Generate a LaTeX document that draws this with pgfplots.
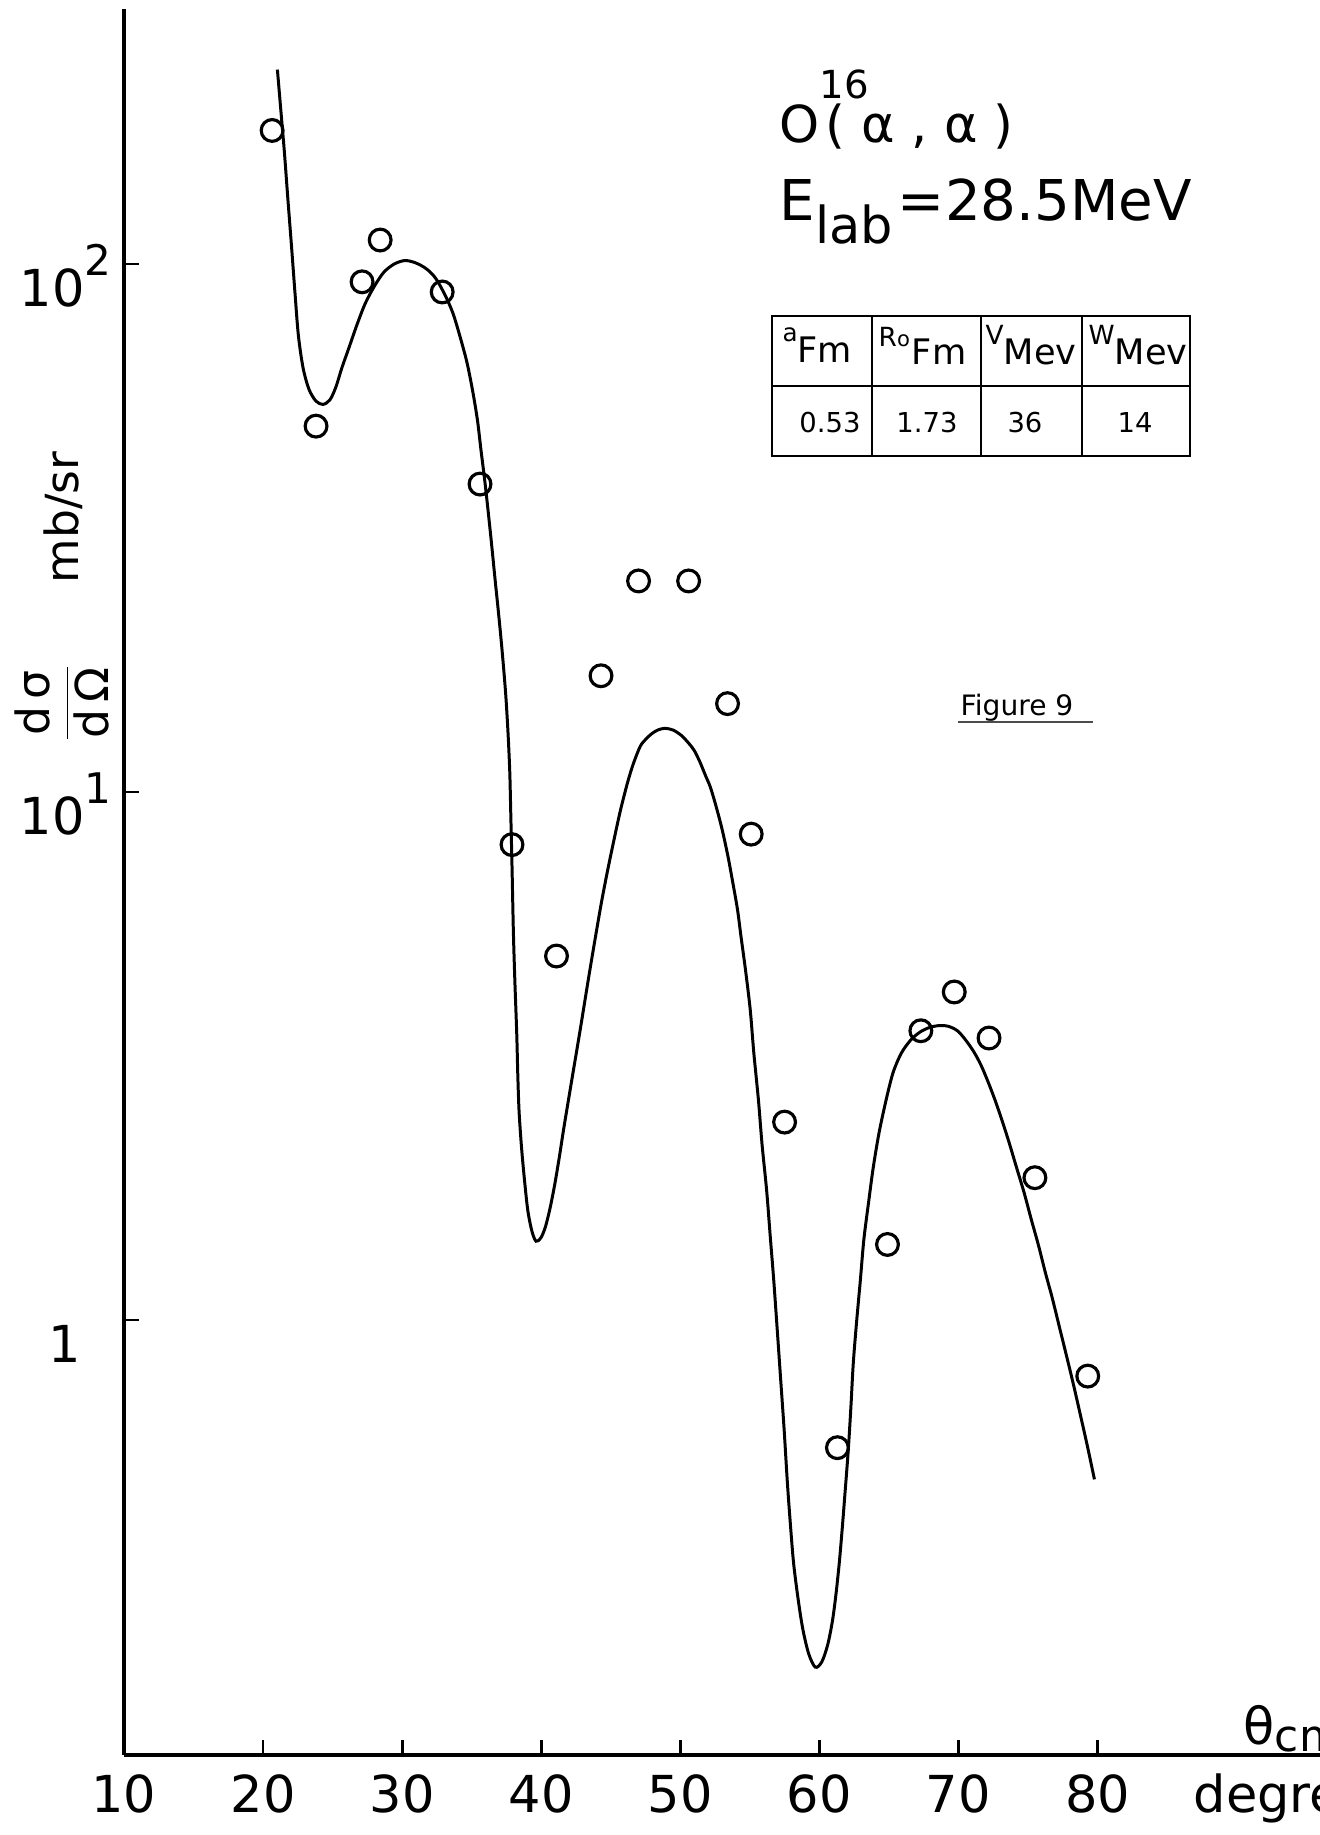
\documentclass[border=0pt]{standalone}
\usepackage{amsmath}
\usepackage{fontspec}
\setmainfont{DejaVu Sans}
\usepackage{pgfplots}
\usepackage{pgfplotstable}
\pgfplotsset{compat=1.18}

% measured cross sections (circles)
\pgfplotstableread{
theta  sigma
20.65  179
23.81  49.3
27.12  92.5
28.42  111
32.88  88.5
35.6   38.3
37.9   7.95
41.1   4.89
44.3   16.6
47.0   25.1
50.6   25.1
53.4   14.7
55.1   8.32
57.5   2.37
61.3   0.573
64.9   1.39
67.3   3.53
69.7   4.18
72.2   3.42
75.5   1.86
79.3   0.783
}\measured

% optical model fit (solid curve)
\pgfplotstableread{
theta  sigma
21.03  233.4
21.28  195.2
21.53  163.3
21.78  133.1
22.04  108.5
22.29  88.5
22.54  73.2
22.88  63.5
23.30  57.9
23.80  55.0
24.31  54.2
24.81  55.3
25.24  58.5
25.66  63.5
26.16  69.2
26.75  76.7
27.34  84.1
28.01  90.8
28.69  96.5
29.44  100.0
30.20  101.5
30.96  100.5
31.72  98.0
32.39  94.1
33.06  87.6
33.65  80.7
34.16  72.9
34.66  65.1
35.08  57.3
35.42  50.5
35.67  44.4
35.93  39.1
36.18  34.1
36.43  29.5
36.68  25.3
36.94  21.7
37.19  18.5
37.44  15.4
37.61  13.0
37.74  10.9
37.82  8.89
37.90  7.25
38.00  5.42
38.11  4.35
38.24  3.49
38.32  2.89
38.41  2.48
38.58  2.13
38.79  1.85
39.04  1.61
39.34  1.47
39.63  1.41
39.97  1.43
40.30  1.50
40.64  1.63
40.98  1.81
41.31  2.04
41.65  2.33
42.24  2.89
42.83  3.58
43.50  4.60
44.26  6.03
44.76  7.07
45.27  8.20
45.69  9.21
46.20  10.4
46.62  11.3
47.12  12.2
47.54  12.6
47.96  12.9
48.38  13.1
48.89  13.2
49.48  13.1
50.07  12.8
50.57  12.4
50.99  12.0
51.41  11.4
51.84  10.7
52.17  10.2
52.59  9.36
53.01  8.49
53.43  7.55
53.77  6.75
54.11  6.00
54.36  5.34
54.70  4.58
55.03  3.87
55.29  3.20
55.62  2.61
55.88  2.15
56.21  1.76
56.46  1.45
56.72  1.19
56.97  0.960
57.22  0.771
57.47  0.619
57.69  0.497
57.90  0.416
58.15  0.346
58.49  0.294
58.82  0.259
59.24  0.233
59.71  0.220
60.17  0.225
60.59  0.242
60.93  0.268
61.18  0.300
61.43  0.346
61.64  0.401
61.85  0.472
62.08  0.567
62.27  0.685
62.44  0.828
62.69  1.00
62.95  1.19
63.20  1.42
63.54  1.67
63.87  1.94
64.29  2.26
64.80  2.61
65.30  2.94
65.89  3.20
66.57  3.39
67.24  3.51
67.91  3.58
68.59  3.61
69.26  3.60
69.93  3.53
70.52  3.39
71.11  3.22
71.62  3.04
72.12  2.83
72.63  2.61
73.13  2.39
73.64  2.17
74.14  1.96
74.73  1.74
75.24  1.55
75.74  1.39
76.25  1.23
76.75  1.10
77.26  0.970
77.76  0.858
78.27  0.755
78.77  0.661
79.28  0.576
79.78  0.499
}\fitcurve

\begin{document}
\begin{tikzpicture}
\path[use as bounding box] (-1.24,-0.80) rectangle (11.96,17.55);
\clip (-1.24,-0.80) rectangle (11.96,17.55);
\begin{axis}[
    scale only axis,
    width=11.96cm, height=17.46cm,
    xmin=10, xmax=96,
    ymode=log, ymin=0.15, ymax=304,
    axis lines*=left,
    axis line style={line width=1.1pt},
    clip=false,
    xtick={10,20,...,80},
    xticklabels={10,20,30,40,50,60,70,80},
    ytick={1,10,100},
    yticklabels={\makebox[0.93cm][l]{\hspace{0.3cm}1},
        10\raisebox{0.62em}{\fontsize{12}{14}\selectfont 1},
        10\raisebox{0.62em}{\fontsize{12}{14}\selectfont 2}},
    yminorticks=false,
    tick align=inside,
    major tick length=0.15cm,
    tick style={line width=0.8pt, black},
    tick label style={font=\fontsize{14.5}{17}\selectfont},
    xticklabel style={anchor=base, yshift=-0.57cm},
    yticklabel style={anchor=base east, yshift=-0.43cm},
    ylabel={$\dfrac{\text{d\,σ}}{\text{d\,Ω}}$\hspace{0.8cm}mb/sr},
    ylabel style={at={(axis description cs:-0.052,0.663)}, anchor=center,
        font=\fontsize{13}{15}\selectfont},
]
\addplot[black, line width=0.85pt, smooth] table {\fitcurve};
\addplot[black, only marks, mark=o, mark size=3.1pt,
    mark options={line width=0.9pt}] table {\measured};
\end{axis}

% reaction and energy
\node[anchor=base west, font=\fontsize{14.5}{17}\selectfont, inner sep=0pt]
    at (6.55,16.12) {O\rlap{\raisebox{0.44cm}{\fontsize{11}{13}\selectfont 16}}\hspace{0.06cm}( α , α )};
\node[anchor=base west, font=\fontsize{16}{19}\selectfont, inner sep=0pt]
    at (6.55,15.34) {E\raisebox{-0.4em}{\fontsize{14.5}{17}\selectfont lab}\hspace{0.05cm}=28.5MeV};

% parameter table
\draw[line width=0.8pt] (6.48,12.99) rectangle (10.66,14.39);
\draw[line width=0.8pt] (6.48,13.69) -- (10.66,13.69);
\foreach \xx in {7.48,8.57,9.58}
    \draw[line width=0.8pt] (\xx,12.99) -- (\xx,14.39);
\begin{scope}[every node/.style={anchor=base west, inner sep=0pt,
        font=\fontsize{10}{12}\selectfont}]
\node at (6.58,13.92) {\raisebox{0.21cm}{\fontsize{7}{8}\selectfont a}Fm};
\node at (7.54,13.90) {\raisebox{0.18cm}{\fontsize{7.5}{9}\selectfont R\fontsize{6}{7}\selectfont o}\hspace{0.02cm}Fm};
\node at (8.61,14.10) {\fontsize{7.5}{9}\selectfont V\raisebox{-0.2cm}{\fontsize{10}{12}\selectfont Mev}};
\node at (9.64,14.10) {\fontsize{7.5}{9}\selectfont W\raisebox{-0.2cm}{\fontsize{10}{12}\selectfont Mev}};
\end{scope}
\begin{scope}[every node/.style={anchor=base, inner sep=0pt,
        font=\fontsize{7.8}{9}\selectfont}]
\node at (7.06,13.22) {0.53};
\node at (8.03,13.22) {1.73};
\node at (9.01,13.22) {36};
\node at (10.11,13.22) {14};
\end{scope}

% figure caption
\node[anchor=base west, inner sep=0pt, font=\fontsize{8}{10}\selectfont]
    at (8.36,10.39) {Figure 9};
\draw[line width=0.5pt, black!70] (8.34,10.33) -- (9.69,10.33);

% x axis label
\node[anchor=base west, inner sep=0pt, font=\fontsize{14.5}{17}\selectfont]
    at (11.19,0.10) {θ\raisebox{-0.12em}{\fontsize{12.5}{15}\selectfont cm}};
\node[anchor=base west, inner sep=0pt, font=\fontsize{14.5}{17}\selectfont]
    at (10.69,-0.57) {degrees};
\end{tikzpicture}
\end{document}
